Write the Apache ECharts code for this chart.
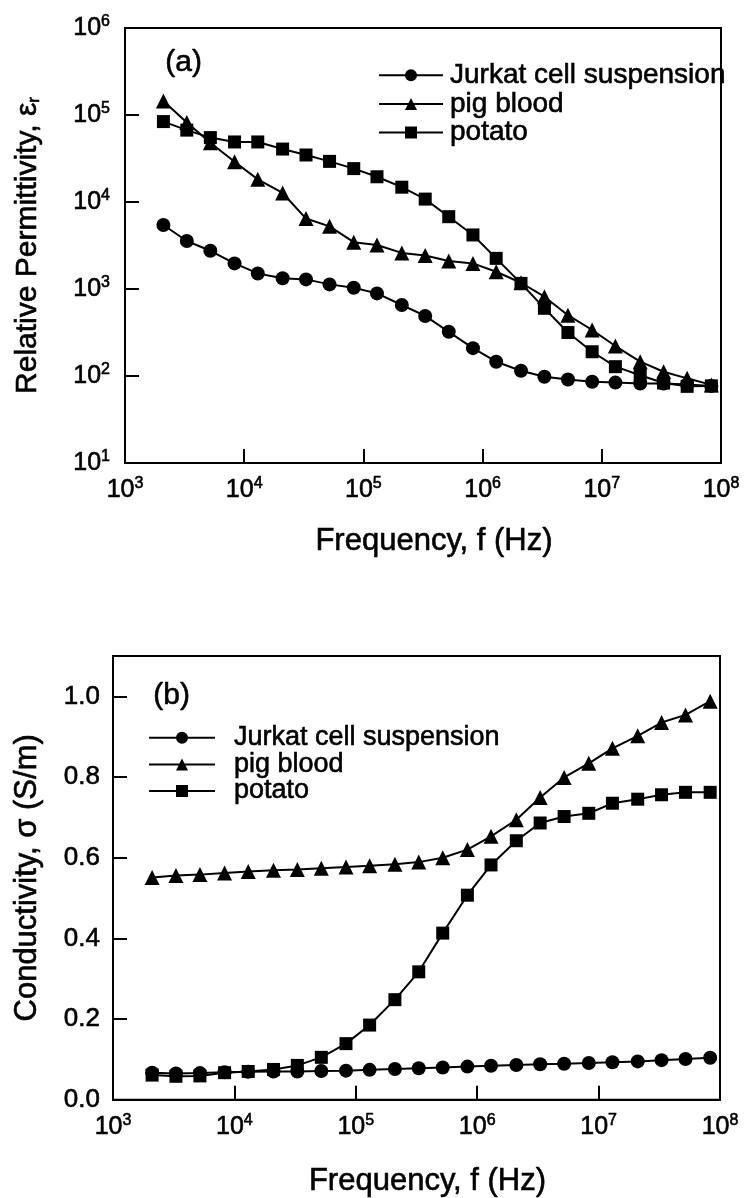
<!DOCTYPE html>
<html>
<head>
<meta charset="utf-8">
<script src="https://cdn.jsdelivr.net/npm/echarts@6/dist/echarts.min.js"></script>
<style>
  html, body { margin: 0; padding: 0; background: #fff; }
  #main { width: 744px; height: 1198px; }
</style>
</head>
<body>
<div id="main"></div>
<script>
// 频率点 (Hz)，两幅图共用
var freqs = [2.1e3, 3.3e3, 5.2e3, 8.3e3, 1.3e4, 2.1e4, 3.3e4, 5.2e4, 8.3e4, 1.3e5, 2.1e5, 3.3e5,
  5.2e5, 8.3e5, 1.3e6, 2.1e6, 3.3e6, 5.2e6, 8.3e6, 1.3e7, 2.1e7, 3.3e7, 5.2e7, 8.3e7];

var seriesNames = ['Jurkat cell suspension', 'pig blood', 'potato'];

// (a) 相对介电常数
var permJurkat = [5440, 3560, 2750, 1970, 1510, 1330, 1290, 1130, 1035, 890, 655, 490,
  322, 209, 146, 115, 98, 91, 86, 84, 82, 82, 80, 77];
var permPigBlood = [145000, 82000, 48000, 29000, 18200, 12700, 6450, 5250, 3450, 3200, 2600, 2430,
  2100, 1970, 1580, 1180, 816, 500, 338, 221, 146, 112, 94, 79];
var permPotato = [84000, 67000, 55000, 49000, 49000, 40600, 34700, 29300, 24200, 19500, 14800, 10800,
  6780, 4180, 2250, 1160, 600, 316, 190, 128, 102, 83, 76, 77];

// (b) 电导率 (S/m)
var condJurkat = [0.067, 0.065, 0.066, 0.068, 0.069, 0.070, 0.070, 0.071, 0.072, 0.074, 0.076, 0.078,
  0.080, 0.082, 0.084, 0.086, 0.088, 0.089, 0.091, 0.093, 0.095, 0.098, 0.101, 0.104];
var condPigBlood = [0.551, 0.556, 0.558, 0.562, 0.566, 0.569, 0.571, 0.574, 0.577, 0.580, 0.584, 0.589,
  0.600, 0.620, 0.653, 0.694, 0.749, 0.799, 0.834, 0.871, 0.902, 0.935, 0.954, 0.988];
var condPotato = [0.061, 0.058, 0.059, 0.067, 0.070, 0.075, 0.085, 0.105, 0.139, 0.185, 0.248, 0.317,
  0.413, 0.507, 0.582, 0.642, 0.686, 0.702, 0.710, 0.735, 0.745, 0.756, 0.762, 0.762];

// 坐标轴刻度
var condTicks = ['0.0', '0.2', '0.4', '0.6', '0.8', '1.0'];

var FONT = '"Liberation Sans", Arial, sans-serif';
// 扫描件的字比较粗，加一点描边
var INK = { textBorderColor: '#000', textBorderWidth: 0.6 };

function pairs(values) {
  return values.map(function (v, i) { return [freqs[i], v]; });
}

function powerLabel(value) {
  var e = Math.round(Math.log10(value));
  return '{b|10}{sup|' + e + '}';
}

var powerRich = {
  b: Object.assign({ fontSize: 25, fontFamily: FONT, color: '#000' }, INK),
  sup: Object.assign({ fontSize: 16, fontFamily: FONT, color: '#000', padding: [0, 0, 12, 0] }, INK)
};

var symbols = ['circle', 'triangle', 'rect'];
var symbolSizes = [14, 15, 13];

function makeSeries(name, idx, data, axisIndex) {
  return {
    name: name,
    type: 'line',
    xAxisIndex: axisIndex,
    yAxisIndex: axisIndex,
    data: pairs(data),
    symbol: symbols[idx],
    symbolSize: symbolSizes[idx],
    showAllSymbol: true,
    lineStyle: { color: '#000', width: 2 },
    itemStyle: { color: '#000' },
    z: 3 + idx
  };
}

var chart = echarts.init(document.getElementById('main'));

function logXAxis(gridIndex, nameGap) {
  return {
    type: 'log',
    logBase: 10,
    gridIndex: gridIndex,
    min: 1e3,
    max: 1e8,
    name: 'Frequency, f (Hz)',
    nameLocation: 'middle',
    nameGap: nameGap,
    nameTextStyle: Object.assign({ fontSize: 31, fontFamily: FONT, color: '#000', padding: [0, 0, 0, 22] }, INK),
    axisLine: { lineStyle: { color: '#000', width: 2 } },
    axisTick: { inside: true, length: 14, lineStyle: { color: '#000', width: 2 } },
    minorTick: { show: false },
    splitLine: { show: false },
    axisLabel: { margin: 13, formatter: powerLabel, rich: powerRich }
  };
}

var option = {
  animation: false,
  backgroundColor: '#fff',
  textStyle: { fontFamily: FONT },
  grid: [
    { left: 125, top: 28, width: 596, height: 435, show: true, borderColor: '#000', borderWidth: 2, backgroundColor: 'transparent' },
    { left: 113, top: 656, width: 607, height: 446, show: true, borderColor: '#000', borderWidth: 2, backgroundColor: 'transparent' }
  ],
  xAxis: [logXAxis(0, 63), logXAxis(1, 66)],
  yAxis: [
    {
      type: 'log',
      logBase: 10,
      gridIndex: 0,
      min: 10,
      max: 1e6,
      name: 'Relative Permittivity, ε{sub|r}',
      nameLocation: 'middle',
      nameGap: 82,
      nameTextStyle: Object.assign({
        fontSize: 30, fontFamily: FONT, color: '#000',
        rich: { sub: Object.assign({ fontSize: 17, fontFamily: FONT, color: '#000', padding: [14, 0, 0, 0] }, INK) }
      }, INK),
      axisLine: { lineStyle: { color: '#000', width: 2 } },
      axisTick: { inside: true, length: 14, lineStyle: { color: '#000', width: 2 } },
      splitLine: { show: false },
      axisLabel: { margin: 15, formatter: powerLabel, rich: powerRich }
    },
    {
      type: 'value',
      gridIndex: 1,
      min: 0,
      max: 1.1,
      interval: 0.2,
      name: 'Conductivity, σ (S/m)',
      nameLocation: 'middle',
      nameGap: 70,
      nameTextStyle: Object.assign({ fontSize: 31, fontFamily: FONT, color: '#000' }, INK),
      axisLine: { lineStyle: { color: '#000', width: 2 } },
      axisTick: { inside: true, length: 14, lineStyle: { color: '#000', width: 2 } },
      splitLine: { show: false },
      axisLabel: Object.assign({
        margin: 13, fontSize: 26, fontFamily: FONT, color: '#000', showMaxLabel: false,
        formatter: function (v) {
          var i = Math.round(v / 0.2);
          return condTicks[i] !== undefined && Math.abs(v - i * 0.2) < 1e-6 ? condTicks[i] : '';
        }
      }, INK)
    }
  ],
  legend: [
    {
      data: seriesNames,
      orient: 'vertical',
      left: 373,
      top: 56,
      itemWidth: 64,
      itemHeight: 15,
      itemGap: 0,
      selectedMode: false,
      textStyle: Object.assign({ fontSize: 28, lineHeight: 27, fontFamily: FONT, color: '#000', padding: [0, 0, 0, 2] }, INK)
    },
    {
      data: seriesNames,
      orient: 'vertical',
      left: 143,
      top: 719,
      itemWidth: 66,
      itemHeight: 15,
      itemGap: -1,
      selectedMode: false,
      textStyle: Object.assign({ fontSize: 27, lineHeight: 25, fontFamily: FONT, color: '#000', padding: [0, 0, 0, 14] }, INK)
    }
  ],
  graphic: [
    { type: 'text', left: 165, top: 47, style: { text: '(a)', font: '30px ' + FONT, fill: '#000', stroke: '#000', lineWidth: 0.6 } },
    { type: 'text', left: 153, top: 680, style: { text: '(b)', font: '30px ' + FONT, fill: '#000', stroke: '#000', lineWidth: 0.6 } }
  ],
  series: [
    makeSeries(seriesNames[0], 0, permJurkat, 0),
    makeSeries(seriesNames[1], 1, permPigBlood, 0),
    makeSeries(seriesNames[2], 2, permPotato, 0),
    makeSeries(seriesNames[0], 0, condJurkat, 1),
    makeSeries(seriesNames[1], 1, condPigBlood, 1),
    makeSeries(seriesNames[2], 2, condPotato, 1)
  ]
};

chart.setOption(option);
</script>
</body>
</html>
